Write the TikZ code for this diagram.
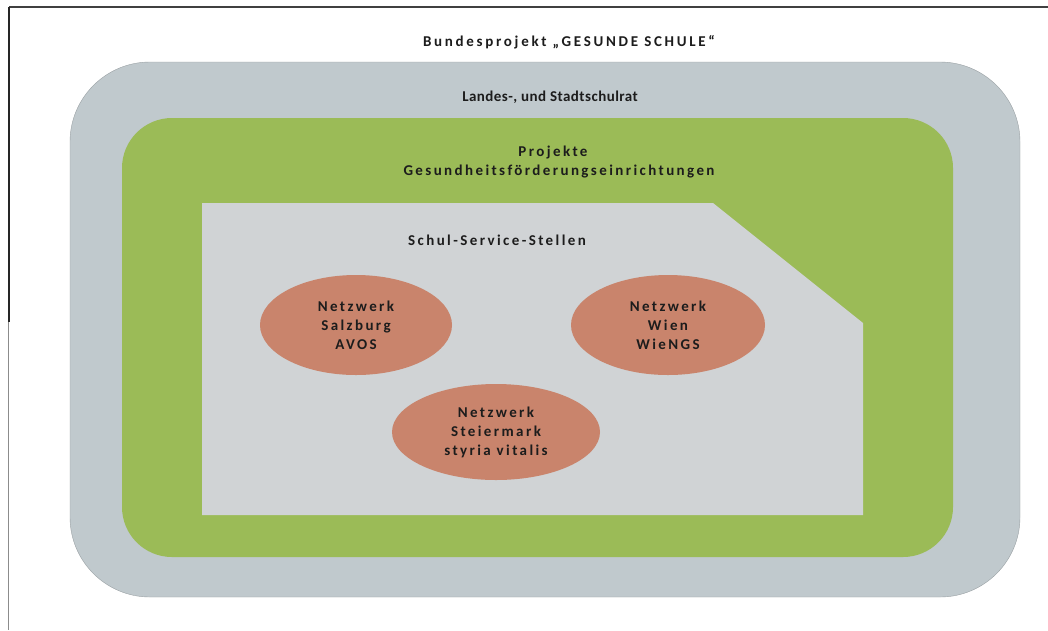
\documentclass[tikz,border=0pt]{standalone}
\usepackage{fontspec}
\setmainfont{Carlito}
\newfontfamily\widefont[LetterSpace=16]{Carlito}
\newfontfamily\titlefont[LetterSpace=18]{Carlito}
\newfontfamily\midfont[LetterSpace=3]{Carlito}
\usetikzlibrary{shapes.geometric}
\definecolor{outergrey}{HTML}{C0C9CD}
\definecolor{midgreen}{HTML}{9BBB57}
\definecolor{innergrey}{HTML}{D0D3D5}
\definecolor{ovalfill}{HTML}{C9846C}
\definecolor{txt}{HTML}{1C1C1C}
\begin{document}
\begin{tikzpicture}[x=1pt,y=-1pt,
  lbl/.style={text=txt,font=\widefont\fontsize{15}{18}\selectfont\bfseries,inner sep=0pt,align=center},
  oval/.style={ellipse,fill=ovalfill,text=txt,font=\widefont\fontsize{15}{19}\selectfont\bfseries,align=center,inner sep=0pt}]
\useasboundingbox (0,0) rectangle (1048,630);
\fill[white] (0,0) rectangle (1048,630);
% frame
\draw[line width=1.2pt,black!75] (9,7) -- (1048,7);
\draw[line width=1.2pt,black!85] (9,7) -- (9,322);
\draw[line width=1pt,black!45] (8,322) -- (8,630);
% layers
\path[fill=outergrey,draw=outergrey!80!black,line width=0.4pt,rounded corners=80pt] (70,62) rectangle (1020,597);
\fill[midgreen,rounded corners=50pt] (122,118) rectangle (953,557);
\fill[innergrey] (202,203) -- (713,203) -- (863,323) -- (863,515) -- (202,515) -- cycle;
% texts
\node[lbl,font=\titlefont\fontsize{15}{18}\selectfont\bfseries] (title) at (569,42) {Bundesprojekt „GESUNDE SCHULE“};
\node[lbl,font=\midfont\fontsize{15}{18}\selectfont\bfseries] (landes) at (550,97) {Landes-, und Stadtschulrat};
\node[lbl] (proj) at (553,152) {Projekte};
\node[lbl] (gfe) at (559,172) {Gesundheitsförderungseinrichtungen};
\node[lbl] (sss) at (497,240) {Schul-Service-Stellen};
\node[oval,minimum width=192pt,minimum height=100pt] (salz) at (356,325) {Netzwerk\\Salzburg\\AVOS};
\node[oval,minimum width=194pt,minimum height=100pt] (wien) at (668,325) {Netzwerk\\Wien\\WieNGS};
\node[oval,minimum width=208pt,minimum height=96pt] (stei) at (496,432) {Netzwerk\\Steiermark\\styria vitalis};
\end{tikzpicture}
\end{document}
